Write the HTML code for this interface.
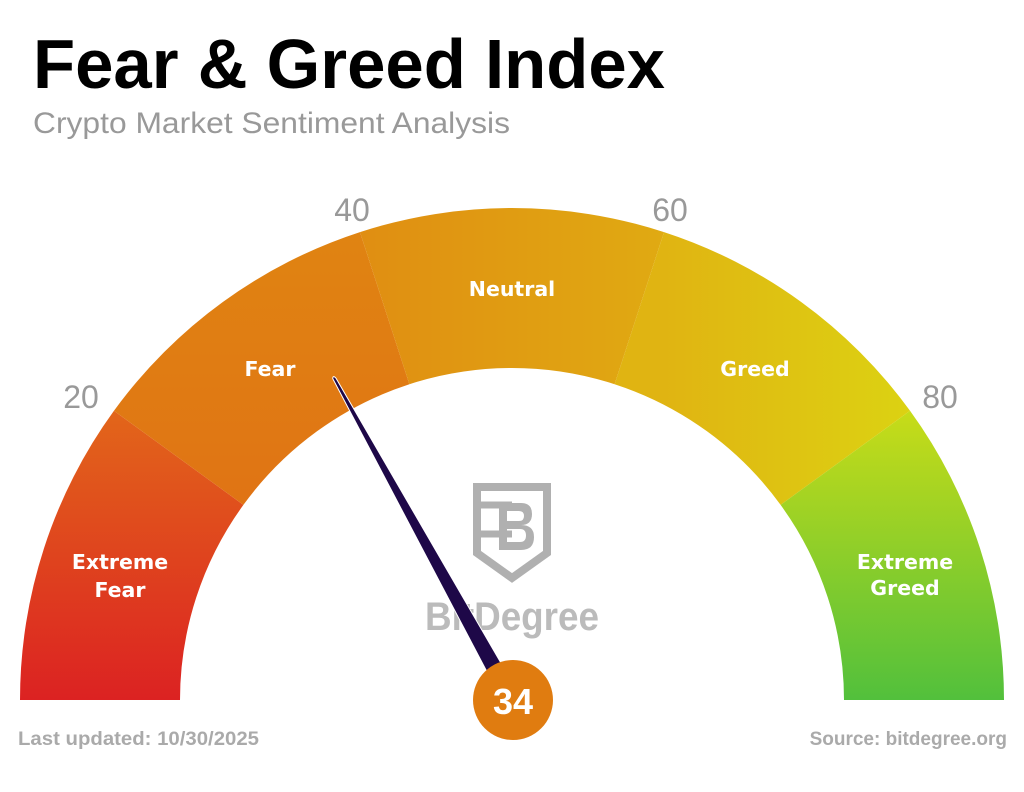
<!DOCTYPE html>
<html><head><style>
html,body{margin:0;padding:0;background:#fff;}
svg{display:block;}
</style></head><body>
<svg width="1024" height="792" viewBox="0 0 1024 792" xmlns="http://www.w3.org/2000/svg">
<defs>
<linearGradient id="g1" x1="0" y1="700" x2="0" y2="410" gradientUnits="userSpaceOnUse"><stop offset="0" stop-color="#dc2222"/><stop offset="1" stop-color="#e2661a"/></linearGradient>
<linearGradient id="g2" x1="0" y1="500" x2="0" y2="230" gradientUnits="userSpaceOnUse"><stop offset="0" stop-color="#e07414"/><stop offset="1" stop-color="#e08412"/></linearGradient>
<linearGradient id="g3" x1="360" y1="0" x2="664" y2="0" gradientUnits="userSpaceOnUse"><stop offset="0" stop-color="#e08e12"/><stop offset="1" stop-color="#e0aa12"/></linearGradient>
<linearGradient id="g4" x1="664" y1="0" x2="910" y2="0" gradientUnits="userSpaceOnUse"><stop offset="0" stop-color="#e0b412"/><stop offset="1" stop-color="#dcd212"/></linearGradient>
<linearGradient id="g5" x1="0" y1="410" x2="0" y2="700" gradientUnits="userSpaceOnUse"><stop offset="0" stop-color="#c8dc18"/><stop offset="1" stop-color="#52c03c"/></linearGradient>
</defs>
<text x="33" y="88" font-family="Liberation Sans, sans-serif" font-weight="bold" font-size="70" textLength="632" lengthAdjust="spacingAndGlyphs" fill="#000">Fear &amp; Greed Index</text>
<text x="33" y="133" font-family="Liberation Sans, sans-serif" font-size="30" textLength="477" lengthAdjust="spacingAndGlyphs" fill="#999">Crypto Market Sentiment Analysis</text>

<path d="M20 700 A492 492 0 0 1 113.97 410.8 L243.4 504.9 A332 332 0 0 0 180 700 Z" fill="url(#g1)"/>
<path d="M113.97 410.8 A492 492 0 0 1 359.97 232.1 L409.4 384.2 A332 332 0 0 0 243.4 504.9 Z" fill="url(#g2)"/>
<path d="M359.97 232.1 A492 492 0 0 1 664.03 232.1 L614.6 384.2 A332 332 0 0 0 409.4 384.2 Z" fill="url(#g3)"/>
<path d="M664.03 232.1 A492 492 0 0 1 910.03 410.8 L780.6 504.9 A332 332 0 0 0 614.6 384.2 Z" fill="url(#g4)"/>
<path d="M910.03 410.8 A492 492 0 0 1 1004 700 L844 700 A332 332 0 0 0 780.6 504.9 Z" fill="url(#g5)"/>

<g font-family="Liberation Sans, sans-serif" font-size="32" fill="#999" text-anchor="middle">
<text x="81" y="408">20</text><text x="352" y="221">40</text><text x="670" y="221">60</text><text x="940" y="408">80</text>
</g>
<g font-family="DejaVu Sans, sans-serif" font-weight="bold" font-size="20.5" fill="#fff" text-anchor="middle">
<text x="120" y="569">Extreme</text><text x="120" y="597">Fear</text>
<text x="270" y="376">Fear</text><text x="512" y="296">Neutral</text><text x="755" y="376">Greed</text>
<text x="905" y="569">Extreme</text><text x="905" y="595">Greed</text>
</g>

<g fill="none" stroke="#b0b0b0" stroke-width="8">
<path d="M477 487 H547 V553 L512 578 L477 553 Z"/>
</g>
<path d="M477 505 H512 M477 534 H512" stroke="#b0b0b0" stroke-width="7"/>
<path d="M499 503 H521 Q532 503 532 514 Q532 525 521 525 Q534 525 534 537 Q534 550 521 550 H499 Z M507 511 V521 H519 Q524 521 524 516 Q524 511 519 511 Z M507 529 V542 H520 Q526 542 526 535.5 Q526 529 520 529 Z" fill="#b0b0b0" fill-rule="evenodd"/>
<text x="512" y="630" font-family="Liberation Sans, sans-serif" font-weight="bold" font-size="40" fill="#bbb" text-anchor="middle" textLength="174" lengthAdjust="spacingAndGlyphs">BitDegree</text>

<path d="M519.9 695.7 L336 378.2 Q333 375 332.7 378.5 L504.1 704.3 Z" fill="#1e0848" stroke="#fff" stroke-width="1"/>
<circle cx="513" cy="700" r="40" fill="#e07c10"/>
<text x="513" y="714" font-family="Liberation Sans, sans-serif" font-weight="bold" font-size="36" fill="#fff" text-anchor="middle">34</text>

<text x="18" y="745" font-family="Liberation Sans, sans-serif" font-weight="bold" font-size="19" fill="#aaa" textLength="241" lengthAdjust="spacingAndGlyphs">Last updated: 10/30/2025</text>
<text x="1007" y="745" font-family="Liberation Sans, sans-serif" font-weight="bold" font-size="19" fill="#aaa" text-anchor="end">Source: bitdegree.org</text>
</svg>
</body></html>
